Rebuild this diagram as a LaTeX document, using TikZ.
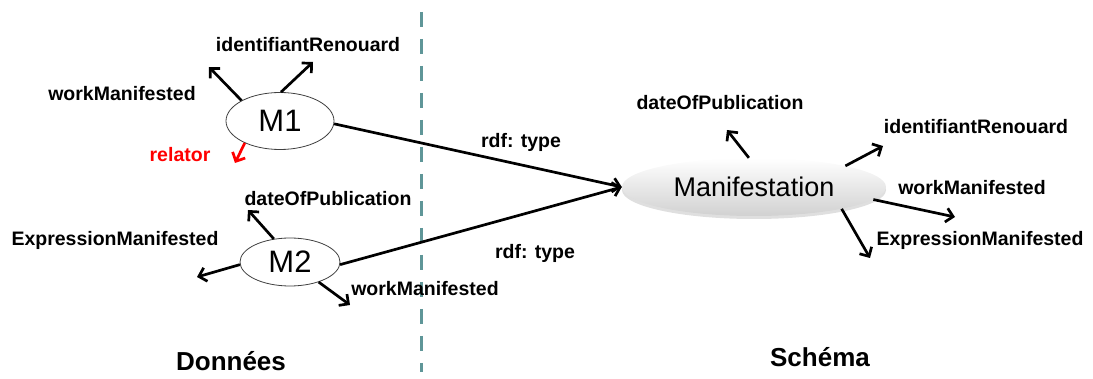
\documentclass[tikz,border=0pt]{standalone}
\usepackage{fontspec}
\setmainfont{Liberation Sans}
\usetikzlibrary{arrows.meta,shapes.geometric,shadows}
\definecolor{sepcol}{RGB}{95,150,152}
\definecolor{redlab}{RGB}{255,0,0}
\begin{document}
\begin{tikzpicture}[x=1pt,y=-1pt,
  lab/.style={font=\bfseries\fontsize{19.5}{23}\selectfont, inner sep=0pt},
  big/.style={font=\bfseries\fontsize{26}{30}\selectfont, inner sep=0pt},
  inst/.style={ellipse, draw=black!75, line width=0.8pt, fill=white, inner sep=0pt, font=\fontsize{31}{36}\selectfont},
  cls/.style={ellipse, inner sep=0pt, top color=white, bottom color=black!18, font=\fontsize{27}{32}\selectfont,
     drop shadow={shadow xshift=0pt, shadow yshift=-3pt, opacity=0.25}},
  arr/.style={line width=2.7pt, -{Straight Barb[length=7pt,width=14pt,line width=2.7pt]}},
  sep/.style={line width=3pt, sepcol, dash pattern=on 15pt off 12pt}
]
\path[use as bounding box] (0,0) rectangle (1093,379);

% separator
\coordinate (st) at (421,12);
\coordinate (sb) at (421,372);
\draw[sep] (st) -- (sb);

% nodes
\node[inst, minimum width=108pt, minimum height=57pt] (m1) at (280,121) {M1};
\node[inst, minimum width=100pt, minimum height=48pt] (m2) at (290,262) {M2};
\node[cls, minimum width=264pt, minimum height=58pt] (man) at (754,187) {Manifestation};

% M1 arrows
\coordinate (m1a) at (209,67);
\coordinate (m1b) at (313,62);
\coordinate (m1c) at (235,163);
\draw[arr] (m1.152) -- (m1a);
\draw[arr] (m1.88) -- (m1b);
\draw[arr, redlab] (m1.212) -- (m1c);
\node[lab] (l1) at (308,45) {identifiantRenouard};
\node[lab] (l2) at (122,94) {workManifested};
\node[lab, redlab] (l3) at (180,155) {relator};

% M2 arrows
\coordinate (m2a) at (248,210);
\coordinate (m2b) at (197,277);
\coordinate (m2c) at (350,305);
\draw[arr] (m2.125) -- (m2a);
\draw[arr] (m2.183) -- (m2b);
\draw[arr] (m2.-35) -- (m2c);
\node[lab] (l4) at (328,199) {dateOfPublication};
\node[lab] (l5) at (115,240) {ExpressionManifested};
\node[lab] (l6) at (425,289) {workManifested};

% rdf:type
\draw[arr] (m1.-3) -- (man.180);
\draw[arr] (m2.-3) -- (man.180);
\node[lab] (r1) at (521,142) {rdf: type};
\node[lab] (r2) at (535,253) {rdf: type};

% Manifestation arrows
\coordinate (ma) at (727,130);
\coordinate (mb) at (883,146);
\coordinate (mc) at (955,217);
\coordinate (md) at (870,258);
\draw[arr] (man.100) -- (ma);
\draw[arr] (man.13) -- (mb);
\draw[arr] (man.-6) -- (mc);
\draw[arr] (man.-14) -- (md);
\node[lab] (l7) at (720,103) {dateOfPublication};
\node[lab] (l8) at (976,127) {identifiantRenouard};
\node[lab] (l9) at (972,188) {workManifested};
\node[lab] (l10) at (980,240) {ExpressionManifested};

% section titles
\node[big] (d) at (231,361) {Données};
\node[big] (s) at (820,357) {Schéma};
\end{tikzpicture}
\end{document}
